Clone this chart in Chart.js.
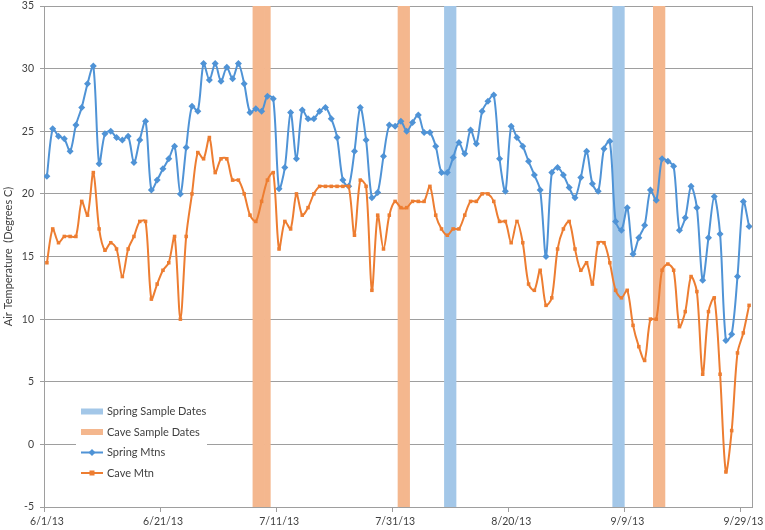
<!DOCTYPE html>
<html>
<head>
<meta charset="utf-8">
<script src="https://cdn.jsdelivr.net/npm/chart.js@4.4.0/dist/chart.umd.min.js"></script>
<style>
  html, body { margin: 0; padding: 0; background: #fff; }
  #wrap { width: 765px; height: 530px; }
</style>
</head>
<body>
<div id="wrap"><canvas id="chart"></canvas></div>
<script>
  // daily air temperature (deg C), one value per day from 6/1/13 to 9/30/13
  let springMtns = [
    21.4, 25.2, 24.6, 24.4, 23.4, 25.5, 26.9, 28.8, 30.2, 22.4,
    24.8, 25.0, 24.5, 24.3, 24.6, 22.5, 24.3, 25.8, 20.3, 21.1,
    22.0, 22.8, 23.8, 20.0, 23.7, 27.0, 26.6, 30.4, 29.1, 30.4,
    29.0, 30.1, 29.2, 30.4, 28.8, 26.5, 26.8, 26.6, 27.8, 27.6,
    20.4, 22.1, 26.5, 22.8, 26.7, 26.0, 26.0, 26.6, 26.9, 26.0,
    24.5, 21.1, 20.6, 23.4, 26.9, 24.3, 19.7, 20.1, 23.0, 25.5,
    25.4, 25.8, 25.0, 25.7, 26.3, 24.9, 24.9, 23.8, 21.7, 21.7,
    22.9, 24.1, 23.2, 25.1, 24.0, 26.6, 27.4, 27.9, 22.8, 20.2,
    25.4, 24.5, 23.8, 22.6, 21.5, 20.3, 15.0, 21.7, 22.1, 21.5,
    20.5, 19.7, 21.3, 23.4, 20.8, 20.2, 23.6, 24.2, 17.8, 17.1,
    18.9, 15.2, 16.5, 17.5, 20.3, 19.5, 22.8, 22.6, 22.2, 17.1,
    18.1, 20.6, 18.9, 13.1, 16.5, 19.8, 16.8, 8.3, 8.8, 13.4,
    19.4, 17.4
  ];
  let caveMtn = [
    14.5, 17.2, 16.1, 16.6, 16.6, 16.6, 19.4, 18.3, 21.7, 17.2,
    15.5, 16.1, 15.6, 13.4, 15.6, 16.6, 17.8, 17.8, 11.6, 12.8,
    13.9, 14.5, 16.6, 10.0, 16.6, 20.0, 23.3, 22.8, 24.5, 21.7,
    22.8, 22.8, 21.1, 21.1, 20.0, 18.3, 17.8, 19.4, 21.1, 21.7,
    15.6, 17.8, 17.2, 20.0, 18.3, 18.9, 20.0, 20.6, 20.6, 20.6,
    20.6, 20.6, 20.6, 16.7, 21.1, 20.6, 12.3, 18.3, 15.6, 18.3,
    19.4, 18.9, 18.9, 19.4, 19.4, 19.4, 20.6, 18.3, 17.2, 16.7,
    17.2, 17.2, 18.3, 19.4, 19.4, 20.0, 20.0, 19.4, 17.8, 17.8,
    16.1, 17.8, 16.1, 12.8, 12.3, 13.9, 11.1, 11.7, 15.6, 17.2,
    17.8, 15.6, 13.9, 14.5, 12.8, 16.1, 16.1, 14.5, 12.3, 11.7,
    12.3, 9.5, 7.8, 6.7, 10.0, 10.0, 13.9, 14.4, 13.9, 9.4,
    10.6, 13.4, 12.2, 5.6, 10.6, 11.7, 5.6, -2.2, 1.1, 7.3,
    8.9, 11.1
  ];
  // sample dates, as day number counted from 6/1/13
  let springSampleDays = [69, 70, 98, 99];
  let caveSampleDays = [36, 37, 38, 61, 62, 105, 106];
  // x axis labels, one every 20 days
  let tickLabels = ['6/1/13', '6/21/13', '7/11/13', '7/31/13', '8/20/13', '9/9/13', '9/29/13'];
  let yMin = -5, yMax = 35;

  const FONT = 'Lato, "Noto Sans", sans-serif';
  const TXT = '#404040';
  const GRID = '#9e9e9e';

  // points sit in the middle of their day
  function toPoints(arr) {
    return arr.map(function (v, i) { return { x: i + 0.5, y: v }; });
  }
  function toBands(days) {
    return days.map(function (d) { return { x: d + 0.5, y: [yMin, yMax] }; });
  }

  const frame = {
    id: 'frame',
    beforeDatasetsDraw(chart) {
      const c = chart.ctx, a = chart.chartArea;
      c.save();
      c.strokeStyle = GRID;
      c.lineWidth = 1;
      c.beginPath();
      c.moveTo(Math.round(a.right) + 0.5, a.top);
      c.lineTo(Math.round(a.right) + 0.5, a.bottom);
      c.stroke();
      c.restore();
    }
  };

  // legend sits inside the plot, bottom left
  const legendBox = {
    id: 'legendBox',
    afterDraw(chart) {
      const c = chart.ctx, a = chart.chartArea;
      const x0 = a.left + 32, y0 = a.bottom - 112;
      c.save();
      c.fillStyle = '#fff';
      c.fillRect(x0, y0, 131, 92);
      c.font = '11px ' + FONT;
      c.textBaseline = 'middle';
      chart.data.datasets.forEach(function (ds, k) {
        const y = y0 + 16.5 + k * 20.5;
        if (ds.type === 'bar') {
          c.fillStyle = ds.backgroundColor;
          c.fillRect(x0 + 5, y - 3, 22, 6);
        } else {
          c.strokeStyle = ds.borderColor;
          c.lineWidth = 2;
          c.beginPath();
          c.moveTo(x0 + 5, y);
          c.lineTo(x0 + 27, y);
          c.stroke();
          c.fillStyle = ds.borderColor;
          const mx = x0 + 16;
          if (ds.pointStyle === 'rectRot') {
            c.beginPath();
            c.moveTo(mx, y - 3.5);
            c.lineTo(mx + 3.5, y);
            c.lineTo(mx, y + 3.5);
            c.lineTo(mx - 3.5, y);
            c.closePath();
            c.fill();
          } else {
            c.fillRect(mx - 2.5, y - 2.5, 5, 5);
          }
        }
        c.fillStyle = TXT;
        c.fillText(ds.label, x0 + 31, y);
      });
      c.restore();
    }
  };

  const ctx = document.getElementById('chart');
  new Chart(ctx, {
    type: 'line',
    data: {
      datasets: [{
        type: 'bar',
        label: 'Spring Sample Dates',
        data: toBands(springSampleDays),
        backgroundColor: '#A3C7E8',
        borderWidth: 0,
        grouped: false,
        barPercentage: 1,
        categoryPercentage: 1,
        order: 3
      }, {
        type: 'bar',
        label: 'Cave Sample Dates',
        data: toBands(caveSampleDays),
        backgroundColor: '#F4B78E',
        borderWidth: 0,
        grouped: false,
        barPercentage: 1,
        categoryPercentage: 1,
        order: 2
      }, {
        label: 'Spring Mtns',
        data: toPoints(springMtns),
        borderColor: '#4F93D6',
        backgroundColor: '#4F93D6',
        borderWidth: 2,
        pointStyle: 'rectRot',
        pointRadius: 3.5,
        pointBorderWidth: 0,
        tension: 0.3,
        order: 1
      }, {
        label: 'Cave Mtn',
        data: toPoints(caveMtn),
        borderColor: '#ED7D31',
        backgroundColor: '#ED7D31',
        borderWidth: 2,
        pointStyle: 'rect',
        pointRadius: 2.5,
        pointBorderWidth: 0,
        tension: 0.3,
        order: 0
      }]
    },
    options: {
      responsive: true,
      maintainAspectRatio: false,
      animation: false,
      layout: { padding: { top: 0, right: 13, left: 0, bottom: 0 } },
      plugins: {
        legend: { display: false },
        tooltip: { enabled: false }
      },
      scales: {
        x: {
          type: 'linear',
          min: 0,
          max: 122,
          offset: false,
          afterFit: function (s) { s.height = 23; },
          ticks: {
            stepSize: 20,
            includeBounds: false,
            autoSkip: false,
            maxRotation: 0,
            padding: 3,
            labelOffset: 3,
            color: TXT,
            font: { family: FONT, size: 10.5 },
            callback: function (v) { return tickLabels[v / 20]; }
          },
          grid: { drawOnChartArea: false, offset: false, tickLength: 5, color: GRID },
          border: { color: GRID }
        },
        y: {
          min: yMin,
          max: yMax,
          afterFit: function (s) { s.width = 44; s.paddingTop = 6; },
          ticks: {
            stepSize: 5,
            padding: 6,
            color: TXT,
            font: { family: FONT, size: 10.5 }
          },
          grid: { color: GRID, tickLength: 4 },
          border: { color: GRID },
          title: {
            display: true,
            text: 'Air Temperature  (Degrees C)',
            color: TXT,
            padding: { top: 2, bottom: 0 },
            font: { family: FONT, size: 11 }
          }
        }
      }
    },
    plugins: [frame, legendBox]
  });
</script>
</body>
</html>
